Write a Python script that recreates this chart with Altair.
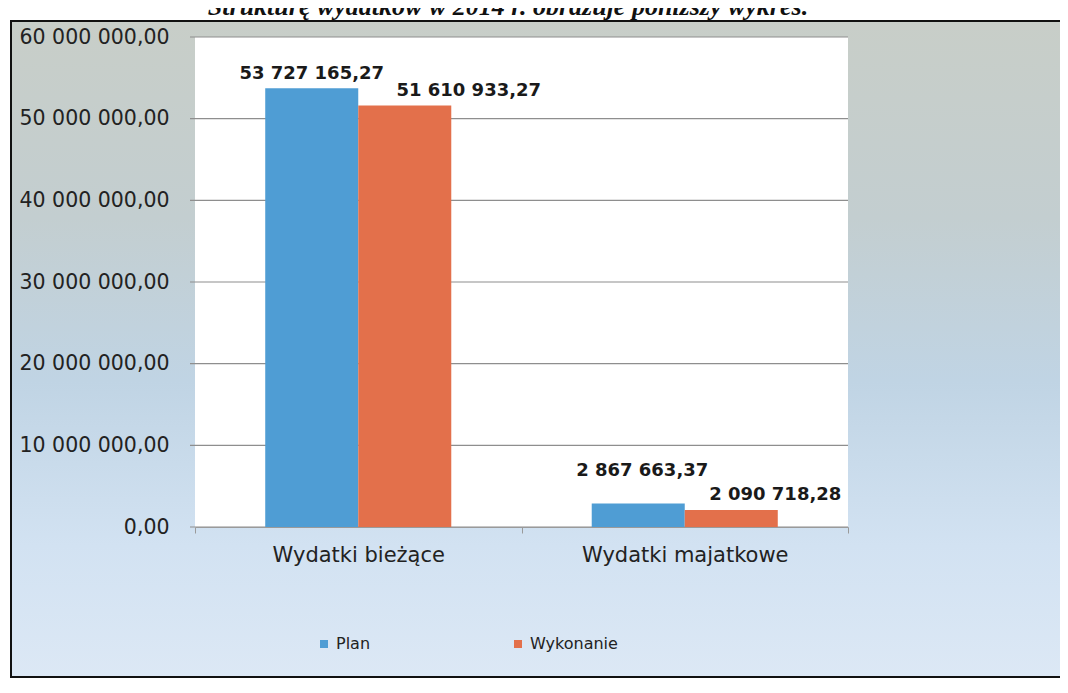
import altair as alt
import pandas as pd

# ---- data ----
title_text = "Strukturę wydatków w 2014 r. obrazuje poniższy wykres."
categories = ["Wydatki bieżące", "Wydatki majatkowe"]
series = ["Plan", "Wykonanie"]
plan = [53727165.27, 2867663.37]
wykonanie = [51610933.27, 2090718.28]
y_ticks = [0, 10000000, 20000000, 30000000, 40000000, 50000000, 60000000]

# ---- styling ----
colors = ["#4f9dd4", "#e3704b"]
label_dx = [[0, 64], [4, 44]]
label_dy = [[-14, -15], [-33, -15]]
W, H = 653, 490
FONT = "DejaVu Sans"

rows = []
for ci, c in enumerate(categories):
    rows.append({"cat": c, "series": series[0], "value": plan[ci]})
    rows.append({"cat": c, "series": series[1], "value": wykonanie[ci]})
df = pd.DataFrame(rows)
grid_df = pd.DataFrame({"value": y_ticks})

one = alt.Data(values=[{"k": 1}])

gradient = alt.Gradient(
    gradient="linear", x1=0, x2=0, y1=0, y2=1,
    stops=[
        alt.GradientStop(offset=0.0, color="#c8cec8"),
        alt.GradientStop(offset=0.3, color="#c3ced0"),
        alt.GradientStop(offset=0.55, color="#c0d4e4"),
        alt.GradientStop(offset=0.8, color="#d2e2f2"),
        alt.GradientStop(offset=1.0, color="#dce8f5"),
    ],
)

frame = alt.Chart(one).mark_rect(fill=gradient, stroke="#111111", strokeWidth=2).encode(
    x=alt.value(-184), x2=alt.value(867), y=alt.value(-16), y2=alt.value(640)
)
white = alt.Chart(one).mark_rect(fill="white").encode(
    x=alt.value(0), x2=alt.value(W), y=alt.value(0), y2=alt.value(H)
)
title = alt.Chart(one).mark_text(
    font="Liberation Serif", fontSize=26, fontStyle="italic", fontWeight="bold",
    baseline="bottom", align="center", color="#111111"
).encode(x=alt.value(313), y=alt.value(-17), text=alt.value(title_text))

xaxis = alt.Axis(
    labelAngle=0, labelFont=FONT, labelFontSize=21, labelColor="#222222",
    labelPadding=11, labelLimit=400, tickBand="extent", tickSize=6,
    tickColor="#9a9a9a", domainColor="#9a9a9a", grid=False, title=None, zindex=1,
)
yaxis = alt.Axis(
    values=y_ticks, format=",.2f", labelFont=FONT, labelFontSize=20.5,
    labelColor="#222222", labelPadding=26, labelLimit=300, ticks=False,
    domain=False, grid=False, title=None, zindex=1,
)
yscale = alt.Scale(domain=[0, 60000000], nice=False)
xscale = alt.Scale(paddingInner=0, paddingOuter=0)

grid = alt.Chart(grid_df).mark_rule(color="#8e8e8e", strokeWidth=1.2).encode(
    y=alt.Y("value:Q", axis=yaxis, scale=yscale, title=None),
    x=alt.value(-5), x2=alt.value(W),
)

xenc = alt.X("cat:N", sort=categories, title=None, scale=xscale, axis=xaxis)
xoff = alt.XOffset("series:N", sort=series,
                   scale=alt.Scale(paddingOuter=0.755, paddingInner=0))
yenc = alt.Y("value:Q", title=None, scale=yscale, axis=yaxis)

bars = alt.Chart(df).mark_bar().encode(
    x=xenc, xOffset=xoff, y=yenc,
    color=alt.Color(
        "series:N", sort=series,
        scale=alt.Scale(domain=series, range=colors),
        legend=alt.Legend(
            orient="none", legendX=121, legendY=599, direction="horizontal",
            title=None, symbolType="square", symbolSize=64, symbolStrokeWidth=0,
            labelFont="DejaVu Sans", labelFontSize=16, labelColor="#222222",
            columnPadding=139, padding=0, labelOffset=4, zindex=1,
        ),
    ),
)

labels = []
for ci, c in enumerate(categories):
    for si, s in enumerate(series):
        labels.append(
            alt.Chart(df).transform_filter(
                (alt.datum.cat == c) & (alt.datum.series == s)
            ).mark_text(
                font=FONT, fontSize=18, fontWeight="bold", color="#1a1a1a",
                baseline="middle", align="center",
                dx=label_dx[ci][si], dy=label_dy[ci][si],
            ).encode(
                x=xenc, xOffset=xoff, y=yenc,
                text=alt.Text("value:Q", format=",.2f"),
            )
        )

chart = alt.layer(frame, white, title, grid, bars, *labels).properties(
    width=W, height=H,
    autosize=alt.AutoSizeParams(type="none"),
    padding={"left": 187, "top": 29, "right": 212, "bottom": 151},
).configure_view(stroke=None).configure(
    locale=alt.Locale(number=alt.NumberLocale(
        decimal=",", thousands=" ", grouping=[3], currency=["", " zł"]
    ))
)

chart.save("out.html", embed_options={"renderer": "svg", "actions": False})
